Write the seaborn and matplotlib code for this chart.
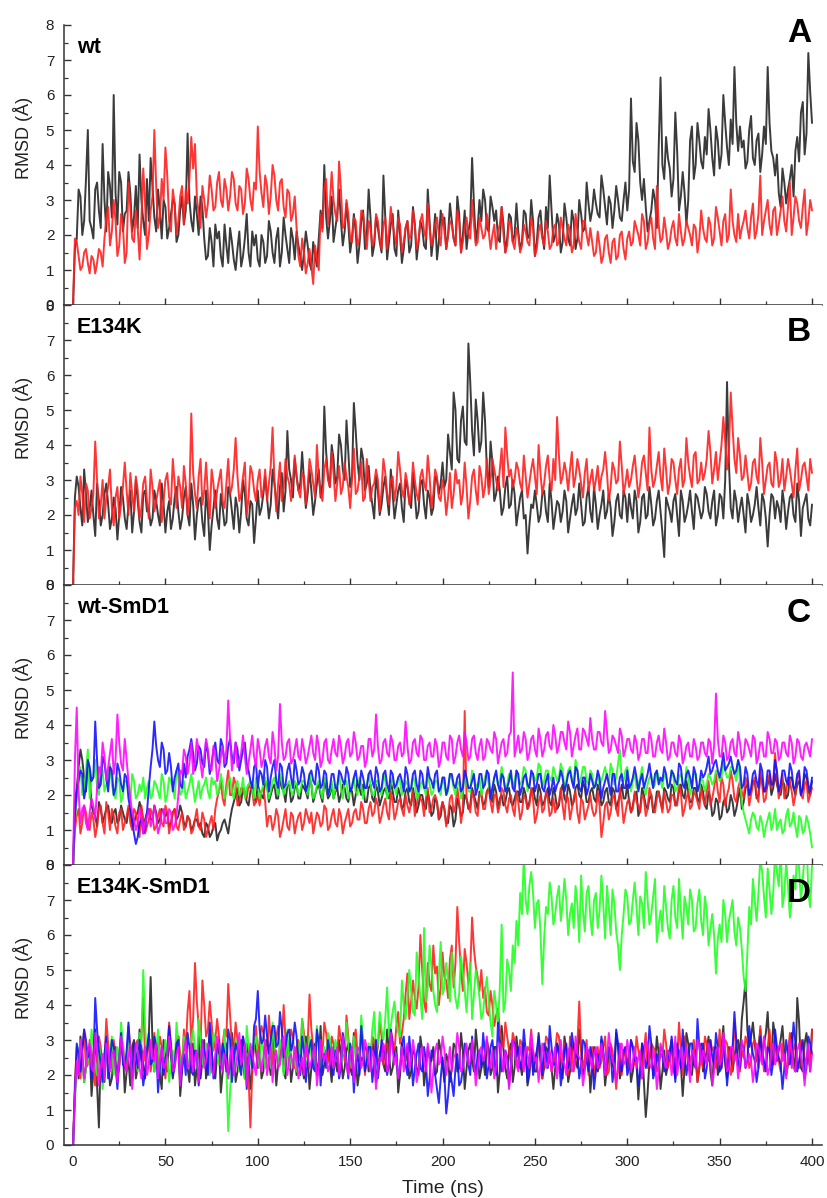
import numpy as np
import pandas as pd
import matplotlib
matplotlib.use("Agg")
import matplotlib.pyplot as plt
from matplotlib.ticker import MultipleLocator
import seaborn as sns

# RMSD readings in tenths of Angstrom.
# *_even: readings at t = 0, 2, 4, ... 400 ns ; *_odd: readings at t = 1, 3, ... 399 ns
even_times = list(range(0, 401, 2))
odd_times = list(range(1, 400, 2))

wt_run1_even = [0,
    19, 31, 24, 50, 22, 33, 27, 46, 21, 34,
    60, 23, 35, 26, 38, 21, 34, 43, 24, 36,
    42, 25, 33, 19, 28, 22, 30, 18, 27, 23,
    49, 24, 31, 20, 28, 13, 22, 11, 19, 14,
    23, 12, 18, 10, 21, 14, 26, 11, 17, 13,
    20, 12, 24, 15, 19, 11, 25, 16, 22, 13,
    17, 10, 21, 12, 18, 11, 27, 40, 19, 31,
    22, 33, 17, 29, 15, 26, 12, 24, 16, 33,
    14, 25, 18, 37, 13, 23, 16, 27, 12, 22,
    15, 28, 13, 24, 17, 33, 14, 26, 18, 23,
    16, 29, 19, 31, 15, 27, 21, 42, 18, 30,
    33, 22, 31, 24, 19, 28, 15, 26, 18, 29,
    16, 27, 19, 30, 14, 25, 20, 28, 37, 18,
    26, 15, 29, 19, 27, 16, 30, 21, 35, 24,
    33, 26, 37, 28, 31, 22, 34, 25, 30, 27,
    59, 38, 47, 30, 28, 24, 33, 22, 65, 36,
    42, 31, 55, 27, 38, 23, 47, 36, 52, 41,
    48, 56, 42, 51, 39, 60, 45, 53, 68, 44,
    45, 39, 50, 42, 47, 38, 51, 68, 44, 37,
    32, 39, 29, 36, 31, 48, 55, 43, 72, 52]
wt_run1_odd = [
    16, 33, 20, 36, 24, 19, 35, 22, 30, 38,
    25, 32, 38, 21, 27, 32, 25, 22, 30, 20,
    24, 34, 21, 27, 30, 19, 26, 29, 20, 31,
    27, 30, 21, 26, 31, 19, 14, 18, 23, 21,
    11, 17, 22, 13, 16, 11, 19, 15, 21, 20,
    11, 18, 14, 21, 12, 22, 15, 20, 12, 19,
    21, 14, 15, 17, 10, 14, 19, 22, 25, 24,
    18, 26, 24, 21, 23, 19, 21, 17, 27, 20,
    25, 17, 22, 15, 25, 18, 26, 14, 20, 16,
    24, 17, 23, 18, 22, 16, 24, 19, 13, 27,
    25, 20, 24, 17, 26, 20, 16, 24, 29, 22,
    24, 30, 21, 28, 27, 18, 23, 19, 25, 20,
    21, 18, 26, 20, 24, 18, 27, 16, 22, 27,
    20, 23, 18, 25, 17, 24, 19, 26, 22, 29,
    27, 29, 25, 33, 23, 29, 27, 30, 24, 35,
    33, 41, 52, 35, 36, 21, 27, 30, 45, 40,
    48, 39, 36, 44, 31, 32, 30, 51, 40, 47,
    39, 43, 50, 37, 47, 43, 52, 40, 46, 52,
    51, 47, 41, 54, 40, 49, 43, 46, 52, 42,
    43, 28, 35, 33, 40, 44, 41, 58, 49, 61]

wt_run2_even = [0,
    18, 10, 15, 12, 14, 9, 16, 11, 25, 17,
    30, 14, 26, 12, 35, 19, 27, 13, 39, 16,
    27, 50, 22, 36, 45, 24, 33, 20, 31, 23,
    29, 48, 46, 26, 34, 25, 37, 27, 35, 30,
    36, 27, 38, 29, 34, 26, 39, 30, 35, 51,
    32, 37, 26, 40, 30, 35, 28, 33, 24, 31,
    14, 19, 9, 16, 6, 13, 26, 33, 23, 38,
    26, 41, 22, 30, 19, 25, 17, 27, 21, 24,
    17, 26, 19, 23, 16, 28, 20, 25, 15, 22,
    19, 27, 16, 24, 21, 29, 17, 23, 20, 26,
    16, 24, 19, 27, 15, 22, 20, 30, 17, 25,
    19, 26, 16, 23, 21, 28, 15, 24, 18, 22,
    15, 23, 18, 25, 14, 21, 19, 24, 16, 22,
    17, 25, 19, 23, 15, 26, 18, 24, 20, 22,
    14, 21, 12, 19, 15, 18, 13, 20, 16, 19,
    17, 24, 20, 26, 16, 23, 19, 34, 18, 25,
    16, 22, 19, 26, 17, 24, 20, 23, 15, 27,
    19, 25, 17, 28, 21, 24, 18, 33, 20, 26,
    22, 27, 19, 29, 21, 37, 24, 30, 20, 28,
    23, 31, 21, 35, 25, 29, 22, 33, 24, 27]
wt_run2_odd = [
    19, 14, 11, 16, 9, 13, 12, 15, 19, 28,
    21, 24, 17, 23, 15, 28, 18, 22, 25, 29,
    20, 31, 34, 25, 30, 37, 21, 29, 24, 34,
    33, 36, 39, 31, 22, 30, 29, 33, 28, 38,
    28, 33, 31, 36, 27, 33, 29, 36, 27, 33,
    38, 28, 34, 31, 37, 27, 36, 25, 32, 26,
    22, 11, 15, 12, 11, 17, 10, 21, 36, 29,
    30, 24, 33, 23, 26, 18, 24, 19, 26, 16,
    22, 18, 24, 16, 25, 21, 23, 17, 23, 18,
    24, 20, 23, 18, 26, 19, 22, 19, 25, 17,
    21, 20, 23, 17, 24, 18, 25, 19, 23, 18,
    22, 20, 21, 20, 16, 23, 20, 17, 23, 16,
    20, 17, 21, 17, 22, 16, 23, 17, 21, 17,
    23, 18, 22, 17, 21, 17, 21, 16, 24, 17,
    18, 15, 17, 14, 20, 12, 19, 14, 21, 13,
    21, 18, 22, 17, 24, 18, 25, 16, 23, 19,
    21, 18, 24, 17, 21, 19, 22, 17, 22, 19,
    22, 18, 23, 19, 25, 17, 26, 20, 24, 18,
    19, 24, 22, 25, 19, 26, 20, 27, 23, 27,
    20, 27, 24, 28, 20, 31, 24, 28, 20, 30]

e134k_run1_even = [0,
    31, 22, 33, 18, 27, 14, 24, 20, 29, 16,
    25, 13, 28, 19, 23, 15, 30, 18, 26, 21,
    17, 27, 20, 29, 15, 24, 19, 28, 16, 25,
    20, 29, 13, 24, 18, 27, 10, 22, 19, 26,
    17, 28, 21, 25, 15, 30, 19, 24, 12, 27,
    22, 31, 19, 33, 24, 28, 21, 44, 30, 36,
    27, 38, 22, 33, 20, 29, 25, 51, 31, 40,
    29, 43, 33, 47, 28, 52, 35, 39, 27, 34,
    23, 31, 20, 28, 25, 33, 19, 27, 22, 30,
    24, 32, 19, 29, 23, 27, 20, 31, 26, 35,
    30, 38, 55, 36, 47, 41, 69, 44, 53, 38,
    55, 33, 41, 24, 31, 20, 28, 22, 30, 17,
    25, 19, 9, 23, 27, 18, 26, 21, 29, 16,
    24, 18, 27, 15, 23, 20, 29, 17, 25, 21,
    28, 16, 23, 19, 26, 14, 24, 20, 27, 18,
    22, 27, 15, 25, 19, 28, 17, 24, 21, 8,
    23, 18, 26, 14, 24, 20, 27, 16, 25, 19,
    28, 21, 24, 17, 26, 19, 58, 22, 27, 18,
    25, 15, 23, 20, 28, 17, 24, 11, 26, 19,
    22, 27, 16, 25, 20, 29, 14, 24, 19, 23]
e134k_run1_odd = [
    25, 28, 17, 26, 22, 20, 29, 17, 26, 23,
    19, 22, 20, 25, 16, 27, 21, 24, 15, 27,
    22, 19, 24, 17, 23, 21, 16, 25, 21, 19,
    28, 17, 23, 20, 25, 14, 21, 17, 27, 16,
    22, 18, 26, 16, 22, 21, 26, 17, 23, 19,
    20, 26, 25, 23, 29, 19, 32, 27, 33, 25,
    31, 29, 30, 26, 27, 24, 33, 29, 38, 28,
    36, 31, 40, 30, 38, 31, 44, 30, 36, 29,
    27, 19, 27, 23, 31, 20, 26, 23, 29, 18,
    28, 22, 26, 21, 30, 19, 25, 22, 30, 29,
    28, 43, 33, 50, 35, 51, 40, 58, 37, 47,
    41, 47, 28, 35, 26, 27, 22, 31, 23, 26,
    21, 27, 20, 17, 22, 23, 20, 27, 18, 24,
    20, 23, 21, 24, 19, 26, 22, 23, 18, 28,
    18, 23, 20, 27, 21, 22, 18, 26, 19, 25,
    26, 19, 24, 18, 26, 20, 23, 19, 27, 15,
    25, 21, 24, 20, 27, 18, 23, 21, 26, 22,
    21, 26, 19, 27, 20, 25, 30, 35, 19, 24,
    22, 20, 26, 18, 23, 22, 26, 19, 20, 25,
    24, 18, 23, 21, 26, 18, 24, 22, 26, 17]

e134k_run2_even = [0,
    24, 31, 18, 27, 22, 41, 19, 30, 25, 33,
    17, 28, 23, 35, 20, 26, 31, 19, 29, 24,
    33, 21, 27, 18, 30, 25, 36, 22, 28, 34,
    20, 49, 26, 31, 23, 35, 19, 29, 27, 33,
    22, 36, 28, 42, 24, 31, 20, 34, 27, 30,
    25, 33, 29, 45, 21, 35, 28, 31, 24, 37,
    27, 32, 23, 36, 29, 40, 26, 33, 30, 38,
    24, 34, 28, 31, 22, 39, 27, 35, 25, 30,
    28, 33, 21, 36, 26, 30, 24, 38, 27, 32,
    23, 35, 26, 31, 29, 37, 22, 33, 25, 30,
    20, 32, 26, 29, 23, 35, 19, 31, 27, 34,
    25, 36, 30, 33, 27, 39, 45, 31, 28, 35,
    29, 37, 25, 33, 31, 40, 26, 34, 30, 36,
    48, 29, 35, 27, 38, 31, 33, 25, 36, 30,
    27, 34, 31, 38, 24, 35, 29, 41, 26, 33,
    30, 37, 25, 35, 32, 45, 28, 34, 31, 39,
    26, 36, 30, 33, 28, 42, 31, 37, 29, 35,
    32, 44, 29, 38, 35, 48, 33, 55, 36, 42,
    30, 37, 27, 35, 31, 42, 26, 34, 29, 38,
    28, 36, 31, 33, 25, 39, 30, 35, 27, 32]
e134k_run2_odd = [
    22, 20, 26, 29, 19, 26, 30, 23, 19, 28,
    22, 25, 19, 28, 27, 32, 21, 27, 22, 31,
    19, 28, 24, 30, 24, 32, 23, 29, 31, 22,
    29, 26, 32, 22, 36, 27, 26, 33, 22, 30,
    24, 29, 26, 33, 31, 26, 35, 25, 32, 24,
    33, 27, 24, 34, 30, 29, 24, 36, 29, 30,
    31, 25, 31, 28, 33, 25, 31, 24, 36, 28,
    32, 29, 26, 35, 28, 30, 26, 31, 24, 36,
    24, 29, 30, 27, 32, 23, 31, 28, 33, 25,
    29, 26, 30, 24, 33, 27, 31, 26, 31, 24,
    27, 25, 22, 33, 30, 26, 28, 24, 33, 23,
    31, 28, 26, 36, 30, 33, 28, 37, 33, 30,
    33, 27, 31, 29, 36, 26, 32, 29, 37, 27,
    30, 37, 31, 32, 33, 28, 36, 29, 32, 27,
    33, 30, 27, 33, 32, 28, 33, 30, 34, 29,
    28, 34, 31, 29, 37, 27, 33, 30, 38, 27,
    33, 29, 35, 26, 36, 30, 35, 28, 38, 30,
    30, 36, 38, 33, 30, 40, 41, 38, 45, 32,
    37, 31, 32, 29, 36, 29, 35, 30, 35, 28,
    35, 30, 27, 36, 29, 33, 27, 34, 31, 36]

wtsmd1_black_even = [0,
    22, 33, 25, 30, 17, 14, 18, 12, 16, 13,
    15, 12, 17, 13, 16, 11, 14, 18, 12, 15,
    13, 17, 12, 16, 14, 11, 15, 13, 17, 12,
    14, 10, 13, 11, 9, 12, 8, 11, 7, 10,
    13, 9, 16, 20, 17, 22, 18, 21, 19, 23,
    20, 24, 18, 22, 19, 25, 21, 23, 18, 22,
    19, 23, 21, 25, 18, 22, 20, 24, 19, 23,
    21, 18, 23, 19, 22, 17, 24, 20, 18, 22,
    19, 23, 17, 21, 20, 24, 18, 22, 16, 21,
    18, 22, 15, 20, 17, 21, 14, 19, 13, 18,
    12, 17, 11, 19, 14, 20, 16, 22, 18, 21,
    17, 21, 19, 23, 16, 20, 18, 22, 17, 21,
    18, 22, 16, 21, 19, 23, 17, 20, 18, 22,
    16, 21, 19, 23, 17, 22, 20, 24, 18, 21,
    19, 23, 17, 21, 18, 22, 16, 20, 19, 23,
    15, 20, 14, 22, 17, 19, 15, 21, 18, 22,
    19, 23, 17, 21, 20, 24, 18, 22, 19, 23,
    17, 21, 14, 19, 13, 18, 15, 20, 14, 19,
    16, 22, 20, 24, 19, 25, 21, 23, 20, 26,
    21, 24, 19, 25, 22, 23, 20, 26, 21, 24]
wtsmd1_black_odd = [
    18, 28, 30, 21, 26, 15, 11, 16, 14, 17,
    12, 16, 13, 15, 12, 16, 12, 15, 16, 13,
    16, 13, 15, 13, 15, 15, 12, 16, 14, 15,
    11, 13, 11, 13, 12, 8, 11, 9, 12, 9,
    12, 11, 13, 18, 22, 18, 21, 17, 23, 18,
    21, 19, 23, 20, 23, 19, 22, 18, 23, 19,
    23, 19, 22, 19, 23, 20, 23, 18, 22, 20,
    19, 22, 20, 22, 18, 21, 20, 22, 23, 18,
    23, 18, 21, 19, 22, 19, 21, 18, 20, 17,
    22, 17, 19, 17, 20, 16, 18, 15, 18, 14,
    16, 12, 16, 13, 17, 15, 19, 17, 20, 16,
    20, 18, 22, 18, 21, 19, 17, 21, 18, 19,
    21, 18, 20, 18, 22, 17, 21, 18, 22, 17,
    20, 17, 23, 18, 21, 18, 23, 19, 22, 18,
    22, 18, 21, 18, 22, 17, 21, 18, 23, 19,
    18, 17, 21, 16, 20, 16, 20, 17, 21, 16,
    21, 18, 22, 18, 23, 19, 21, 18, 22, 18,
    21, 16, 19, 15, 18, 14, 19, 16, 18, 16,
    22, 18, 23, 21, 24, 20, 24, 21, 25, 22,
    23, 20, 23, 20, 25, 20, 24, 22, 25, 20]

wtsmd1_red_even = [0,
    14, 9, 17, 11, 15, 8, 16, 12, 18, 10,
    14, 9, 16, 12, 17, 10, 15, 8, 13, 11,
    16, 10, 14, 12, 17, 9, 15, 11, 13, 10,
    14, 9, 13, 11, 15, 8, 12, 10, 19, 24,
    17, 27, 20, 23, 18, 21, 19, 22, 17, 20,
    21, 18, 14, 10, 16, 8, 13, 11, 15, 9,
    14, 10, 16, 12, 9, 15, 11, 17, 10, 14,
    12, 16, 9, 14, 11, 15, 13, 18, 12, 16,
    14, 19, 12, 17, 15, 21, 13, 18, 16, 20,
    15, 21, 17, 19, 14, 22, 16, 20, 13, 18,
    11, 19, 15, 22, 12, 44, 17, 21, 15, 20,
    16, 21, 18, 20, 15, 22, 17, 19, 16, 21,
    13, 20, 16, 22, 12, 18, 15, 21, 14, 19,
    17, 22, 13, 19, 16, 21, 12, 18, 15, 20,
    14, 21, 8, 17, 13, 19, 16, 22, 12, 18,
    15, 21, 17, 20, 14, 22, 16, 19, 18, 21,
    15, 20, 17, 23, 14, 19, 16, 21, 18, 22,
    17, 24, 19, 26, 18, 23, 20, 27, 19, 22,
    21, 25, 17, 23, 20, 27, 18, 24, 22, 32,
    19, 26, 21, 24, 17, 25, 20, 23, 18, 22]
wtsmd1_red_odd = [
    10, 16, 12, 15, 10, 13, 11, 17, 9, 15,
    16, 11, 15, 10, 14, 12, 16, 12, 17, 9,
    13, 14, 11, 16, 11, 15, 12, 16, 10, 15,
    11, 13, 10, 16, 10, 13, 10, 14, 16, 21,
    19, 23, 20, 25, 17, 22, 20, 23, 21, 18,
    17, 22, 11, 14, 12, 14, 10, 16, 10, 14,
    12, 15, 12, 14, 15, 12, 14, 12, 16, 11,
    16, 11, 14, 12, 16, 12, 16, 13, 16, 12,
    18, 15, 17, 14, 19, 13, 18, 15, 19, 14,
    17, 18, 14, 21, 18, 19, 15, 19, 18, 16,
    16, 14, 20, 17, 18, 16, 19, 15, 19, 14,
    21, 16, 22, 15, 20, 17, 21, 15, 20, 14,
    18, 15, 19, 17, 19, 14, 20, 16, 19, 15,
    15, 18, 17, 20, 13, 19, 15, 19, 13, 17,
    16, 15, 17, 12, 18, 15, 20, 14, 18, 15,
    19, 16, 18, 15, 19, 16, 20, 15, 21, 15,
    18, 16, 20, 17, 21, 16, 21, 17, 20, 16,
    19, 21, 17, 22, 21, 25, 17, 22, 24, 18,
    24, 19, 23, 20, 25, 18, 23, 19, 26, 24,
    25, 22, 19, 25, 21, 20, 26, 19, 24, 20]

wtsmd1_green_even = [0,
    19, 28, 22, 33, 24, 30, 20, 27, 23, 29,
    20, 25, 18, 24, 21, 26, 19, 23, 25, 22,
    19, 24, 21, 26, 18, 25, 22, 27, 20, 24,
    21, 26, 18, 24, 22, 25, 19, 23, 20, 26,
    19, 24, 21, 23, 20, 25, 22, 24, 19, 23,
    21, 25, 19, 24, 22, 26, 20, 23, 21, 24,
    20, 24, 22, 26, 19, 23, 21, 25, 20, 24,
    22, 26, 19, 24, 21, 25, 20, 23, 22, 26,
    20, 24, 21, 26, 19, 23, 22, 25, 20, 24,
    21, 25, 19, 23, 22, 26, 20, 24, 21, 25,
    20, 26, 22, 24, 19, 25, 21, 27, 23, 25,
    22, 27, 20, 25, 23, 28, 21, 26, 22, 27,
    23, 28, 21, 26, 24, 29, 22, 27, 25, 28,
    24, 29, 22, 27, 25, 30, 23, 28, 24, 27,
    22, 26, 24, 28, 23, 27, 25, 33, 24, 28,
    21, 26, 23, 28, 20, 25, 22, 27, 24, 26,
    22, 27, 21, 25, 23, 28, 20, 26, 22, 25,
    21, 26, 23, 27, 24, 29, 25, 28, 26, 30,
    18, 13, 9, 15, 11, 14, 8, 13, 10, 16,
    12, 9, 14, 11, 15, 8, 13, 10, 12, 5]
wtsmd1_green_odd = [
    12, 25, 20, 27, 19, 25, 22, 28, 21, 26,
    23, 19, 24, 20, 24, 18, 24, 20, 21, 19,
    24, 20, 23, 19, 24, 20, 24, 19, 25, 21,
    19, 23, 22, 21, 19, 23, 21, 25, 24, 21,
    23, 21, 25, 19, 24, 21, 19, 23, 22, 25,
    19, 23, 22, 21, 25, 20, 24, 22, 24, 20,
    23, 21, 24, 20, 23, 20, 24, 19, 24, 21,
    19, 23, 22, 24, 19, 23, 21, 25, 19, 23,
    23, 20, 24, 20, 24, 21, 25, 20, 24, 21,
    23, 21, 24, 20, 24, 20, 23, 21, 24, 20,
    23, 21, 25, 20, 23, 22, 24, 21, 25, 22,
    20, 25, 23, 22, 26, 24, 25, 23, 25, 24,
    25, 24, 27, 23, 26, 25, 28, 24, 27, 24,
    26, 25, 27, 24, 28, 23, 27, 25, 28, 23,
    26, 24, 23, 26, 25, 29, 23, 29, 24, 27,
    24, 24, 22, 25, 23, 23, 26, 23, 25, 22,
    25, 23, 25, 22, 26, 22, 25, 22, 26, 21,
    24, 23, 25, 24, 26, 25, 27, 25, 28, 24,
    24, 15, 11, 13, 14, 10, 12, 11, 15, 12,
    10, 13, 10, 16, 12, 11, 14, 9, 14, 9]

wtsmd1_blue_even = [0,
    21, 27, 19, 30, 24, 41, 22, 31, 25, 28,
    20, 29, 23, 26, 19, 13, 6, 12, 9, 15,
    28, 41, 30, 35, 26, 32, 21, 27, 23, 29,
    31, 36, 27, 34, 29, 35, 26, 33, 30, 36,
    28, 34, 31, 35, 27, 33, 29, 24, 28, 22,
    26, 30, 21, 28, 24, 29, 22, 27, 25, 30,
    23, 28, 21, 26, 24, 29, 22, 27, 20, 26,
    22, 27, 24, 28, 21, 25, 23, 27, 22, 26,
    24, 28, 21, 26, 23, 27, 22, 25, 24, 28,
    21, 26, 23, 27, 22, 28, 24, 26, 21, 25,
    20, 26, 23, 25, 21, 27, 22, 24, 20, 26,
    22, 27, 19, 25, 23, 26, 21, 24, 22, 27,
    20, 25, 23, 27, 21, 26, 22, 24, 20, 25,
    23, 27, 21, 26, 24, 28, 22, 25, 20, 26,
    22, 27, 19, 24, 23, 26, 21, 25, 22, 27,
    23, 28, 21, 26, 24, 29, 22, 27, 25, 28,
    22, 27, 24, 29, 23, 26, 25, 28, 21, 27,
    26, 31, 27, 30, 25, 32, 28, 31, 26, 30,
    22, 28, 20, 26, 24, 29, 21, 27, 23, 30,
    21, 27, 24, 29, 22, 26, 20, 28, 23, 25]
wtsmd1_blue_odd = [
    14, 24, 26, 22, 28, 25, 30, 23, 29, 21,
    27, 22, 27, 21, 25, 16, 9, 8, 13, 10,
    22, 33, 34, 28, 33, 27, 28, 25, 29, 22,
    25, 33, 32, 29, 33, 28, 32, 29, 35, 29,
    34, 29, 36, 29, 33, 30, 35, 27, 22, 29,
    27, 23, 28, 25, 30, 22, 28, 23, 29, 22,
    27, 24, 26, 23, 27, 23, 27, 23, 26, 22,
    26, 22, 26, 23, 26, 22, 27, 22, 25, 22,
    27, 22, 26, 22, 27, 21, 26, 23, 26, 21,
    26, 22, 27, 21, 26, 22, 25, 22, 27, 22,
    25, 22, 26, 22, 26, 22, 25, 22, 26, 22,
    26, 23, 26, 22, 27, 21, 25, 22, 27, 21,
    26, 22, 26, 22, 26, 23, 26, 21, 26, 22,
    21, 24, 25, 23, 27, 22, 27, 21, 25, 22,
    24, 23, 25, 22, 26, 20, 26, 21, 26, 22,
    22, 25, 25, 24, 22, 26, 25, 26, 23, 24,
    26, 23, 26, 23, 28, 22, 27, 22, 26, 23,
    25, 28, 26, 29, 27, 28, 27, 29, 28, 27,
    28, 23, 26, 22, 27, 22, 27, 22, 27, 23,
    27, 23, 27, 23, 27, 22, 27, 22, 27, 21]

wtsmd1_magenta_even = [0,
    45, 12, 17, 10, 19, 13, 28, 35, 24, 32,
    26, 43, 29, 36, 24, 15, 10, 16, 9, 14,
    11, 17, 9, 15, 12, 16, 10, 14, 27, 33,
    26, 35, 29, 33, 25, 36, 28, 34, 24, 31,
    29, 47, 27, 35, 30, 37, 26, 33, 31, 36,
    28, 34, 31, 38, 27, 46, 30, 35, 29, 33,
    31, 36, 29, 34, 32, 37, 28, 35, 30, 33,
    32, 37, 29, 35, 31, 38, 30, 34, 28, 36,
    31, 43, 29, 35, 32, 37, 30, 34, 31, 41,
    29, 35, 32, 37, 30, 34, 31, 36, 28, 35,
    31, 37, 29, 35, 33, 38, 30, 36, 32, 34,
    30, 36, 33, 38, 29, 35, 31, 37, 55, 34,
    32, 38, 30, 36, 33, 39, 31, 37, 34, 40,
    32, 38, 35, 41, 31, 37, 33, 39, 36, 42,
    33, 38, 35, 44, 32, 37, 34, 39, 31, 36,
    33, 37, 30, 36, 32, 38, 31, 35, 33, 39,
    30, 35, 32, 37, 29, 34, 31, 36, 30, 35,
    32, 36, 29, 49, 31, 37, 30, 35, 32, 38,
    30, 36, 33, 37, 29, 35, 31, 38, 32, 36,
    30, 35, 32, 37, 29, 36, 31, 34, 33, 36]
wtsmd1_magenta_odd = [
    30, 21, 16, 12, 15, 17, 22, 26, 31, 28,
    36, 30, 35, 27, 30, 19, 13, 12, 14, 12,
    16, 13, 14, 11, 16, 12, 15, 11, 20, 26,
    31, 29, 26, 36, 29, 31, 33, 27, 31, 27,
    34, 33, 36, 31, 28, 32, 31, 29, 37, 28,
    33, 30, 36, 29, 34, 31, 35, 31, 36, 30,
    36, 30, 33, 31, 37, 30, 34, 30, 36, 29,
    36, 31, 34, 31, 36, 32, 35, 31, 34, 30,
    36, 33, 34, 30, 36, 31, 35, 30, 35, 32,
    34, 30, 36, 31, 36, 30, 35, 31, 34, 30,
    35, 30, 36, 31, 37, 31, 35, 31, 37, 30,
    36, 31, 35, 32, 36, 32, 36, 32, 38, 31,
    37, 33, 36, 32, 37, 31, 36, 33, 38, 33,
    37, 34, 38, 33, 38, 34, 39, 33, 38, 34,
    36, 33, 38, 34, 38, 33, 36, 32, 37, 33,
    36, 32, 35, 32, 36, 32, 36, 31, 37, 32,
    35, 31, 35, 31, 35, 31, 35, 31, 34, 31,
    35, 31, 35, 34, 36, 31, 35, 31, 36, 31,
    35, 31, 35, 31, 36, 31, 35, 31, 36, 32,
    35, 31, 35, 31, 35, 31, 35, 30, 35, 31]

e134ksmd1_black_even = [0,
    24, 31, 18, 27, 14, 33, 5, 22, 29, 17,
    26, 20, 31, 15, 24, 28, 19, 33, 23, 27,
    48, 21, 29, 16, 25, 32, 19, 27, 14, 30,
    22, 28, 17, 31, 24, 19, 33, 21, 26, 15,
    27, 20, 32, 18, 25, 23, 29, 16, 30, 22,
    19, 28, 24, 33, 17, 26, 21, 30, 18, 25,
    29, 22, 31, 16, 27, 20, 34, 23, 26, 18,
    24, 30, 19, 27, 22, 32, 17, 25, 28, 21,
    30, 18, 26, 23, 33, 20, 27, 15, 29, 24,
    19, 27, 22, 31, 17, 28, 24, 20, 30, 23,
    26, 18, 29, 21, 32, 16, 27, 24, 33, 19,
    25, 30, 20, 28, 15, 34, 22, 27, 18, 31,
    23, 29, 17, 26, 21, 32, 19, 28, 24, 16,
    29, 22, 31, 18, 27, 24, 33, 20, 26, 15,
    28, 21, 30, 17, 25, 23, 32, 19, 27, 22,
    18, 26, 13, 29, 8, 24, 20, 31, 16, 27,
    23, 30, 19, 27, 14, 32, 21, 26, 18, 29,
    24, 31, 17, 28, 22, 34, 19, 27, 25, 30,
    36, 47, 28, 35, 24, 33, 29, 38, 23, 31,
    27, 34, 20, 30, 25, 42, 22, 29, 26, 33]
e134ksmd1_black_odd = [
    15, 19, 26, 22, 28, 21, 17, 27, 18, 25,
    19, 28, 22, 27, 21, 17, 30, 22, 28, 19,
    31, 29, 27, 20, 30, 21, 25, 23, 31, 21,
    27, 18, 29, 22, 19, 30, 24, 27, 19, 28,
    21, 29, 22, 27, 21, 30, 19, 26, 21, 27,
    28, 21, 30, 20, 27, 23, 29, 19, 27, 22,
    20, 28, 19, 26, 22, 29, 24, 20, 27, 23,
    28, 21, 26, 22, 29, 20, 26, 21, 24, 27,
    23, 26, 22, 28, 21, 26, 22, 28, 20, 26,
    28, 21, 26, 20, 27, 22, 25, 28, 21, 27,
    18, 24, 22, 28, 22, 27, 22, 29, 21, 27,
    22, 20, 27, 22, 28, 21, 27, 19, 29, 22,
    26, 20, 27, 20, 27, 21, 26, 22, 27, 22,
    22, 27, 19, 27, 21, 29, 22, 28, 22, 27,
    22, 26, 23, 26, 22, 28, 21, 28, 22, 26,
    27, 21, 23, 21, 18, 15, 28, 23, 26, 21,
    20, 27, 22, 24, 23, 22, 29, 20, 27, 22,
    21, 27, 21, 27, 20, 28, 23, 28, 21, 29,
    25, 41, 33, 31, 29, 28, 24, 32, 27, 35,
    24, 30, 26, 23, 32, 21, 35, 21, 32, 21]

e134ksmd1_red_even = [0,
    28, 19, 33, 23, 27, 17, 31, 21, 36, 25,
    30, 18, 27, 22, 34, 20, 29, 24, 42, 26,
    21, 32, 25, 28, 19, 35, 23, 30, 26, 33,
    38, 29, 52, 34, 47, 31, 41, 27, 36, 24,
    33, 46, 28, 35, 22, 31, 26, 5, 30, 25,
    34, 28, 37, 23, 31, 26, 40, 29, 33, 22,
    30, 36, 25, 43, 28, 32, 21, 35, 27, 31,
    24, 34, 29, 37, 22, 30, 26, 33, 20, 28,
    31, 25, 35, 23, 29, 33, 27, 38, 32, 43,
    36, 47, 39, 60, 41, 52, 44, 49, 40, 55,
    47, 53, 45, 68, 50, 56, 46, 65, 51, 44,
    42, 38, 44, 34, 39, 30, 35, 27, 32, 25,
    30, 22, 28, 33, 24, 29, 19, 31, 26, 23,
    32, 25, 29, 20, 27, 24, 41, 22, 30, 26,
    19, 28, 24, 31, 21, 27, 16, 29, 25, 22,
    30, 23, 27, 19, 32, 25, 28, 21, 26, 33,
    22, 29, 25, 35, 20, 27, 24, 30, 18, 28,
    31, 24, 27, 22, 33, 26, 29, 20, 35, 23,
    27, 31, 22, 29, 25, 34, 21, 28, 26, 30,
    24, 29, 20, 32, 27, 23, 30, 25, 28, 33]
e134ksmd1_red_odd = [
    18, 24, 27, 22, 30, 22, 25, 28, 24, 29,
    22, 25, 23, 29, 21, 28, 25, 30, 31, 24,
    30, 25, 22, 31, 25, 27, 29, 24, 31, 22,
    27, 44, 36, 41, 28, 40, 33, 35, 30, 31,
    29, 31, 37, 27, 30, 27, 22, 20, 21, 34,
    30, 32, 24, 30, 28, 34, 29, 30, 26, 31,
    28, 24, 32, 29, 33, 25, 30, 26, 32, 23,
    29, 26, 30, 24, 31, 25, 33, 24, 29, 26,
    24, 30, 28, 31, 28, 24, 30, 34, 29, 36,
    49, 41, 42, 45, 50, 38, 46, 57, 51, 45,
    48, 42, 57, 52, 58, 44, 52, 50, 56, 48,
    50, 45, 37, 40, 37, 33, 28, 31, 24, 30,
    22, 29, 24, 27, 21, 26, 25, 24, 30, 21,
    27, 31, 22, 27, 31, 21, 29, 27, 25, 20,
    28, 24, 22, 28, 20, 29, 22, 23, 20, 28,
    25, 28, 31, 24, 27, 22, 29, 27, 23, 25,
    29, 25, 21, 24, 27, 31, 23, 26, 24, 22,
    22, 29, 30, 28, 25, 22, 30, 25, 22, 29,
    21, 25, 29, 24, 30, 22, 27, 23, 33, 23,
    27, 21, 25, 26, 22, 29, 22, 29, 23, 22]

e134ksmd1_green_even = [0,
    22, 30, 18, 27, 33, 24, 29, 16, 31, 26,
    20, 28, 35, 23, 30, 19, 27, 32, 50, 25,
    29, 21, 33, 26, 30, 18, 27, 35, 24, 31,
    22, 30, 27, 36, 23, 29, 20, 32, 26, 28,
    33, 4, 24, 30, 21, 28, 34, 23, 29, 26,
    31, 22, 28, 35, 25, 30, 20, 33, 27, 24,
    29, 36, 23, 31, 26, 34, 21, 28, 32, 25,
    30, 22, 27, 35, 24, 31, 28, 37, 26, 29,
    33, 27, 38, 30, 45, 34, 41, 32, 47, 36,
    50, 38, 55, 42, 62, 45, 51, 40, 48, 43,
    52, 41, 49, 39, 54, 44, 47, 36, 50, 42,
    38, 48, 35, 44, 34, 63, 41, 50, 57, 64,
    72, 83, 66, 78, 62, 70, 46, 68, 75, 63,
    71, 64, 76, 60, 69, 74, 58, 67, 72, 65,
    70, 62, 77, 59, 68, 73, 61, 50, 66, 71,
    64, 75, 60, 69, 78, 63, 71, 58, 67, 74,
    62, 70, 65, 76, 59, 68, 73, 61, 69, 64,
    71, 57, 66, 49, 63, 70, 58, 67, 61, 65,
    56, 44, 68, 76, 64, 82, 71, 79, 66, 84,
    74, 68, 81, 65, 77, 85, 70, 83, 72, 80]
e134ksmd1_green_odd = [
    12, 26, 25, 22, 23, 28, 20, 25, 22, 21,
    31, 23, 24, 29, 25, 27, 24, 21, 29, 34,
    22, 25, 27, 21, 24, 25, 23, 22, 29, 23,
    27, 25, 33, 22, 30, 24, 28, 24, 30, 23,
    24, 22, 15, 20, 27, 24, 19, 28, 24, 31,
    22, 27, 24, 22, 29, 23, 27, 24, 22, 30,
    21, 26, 30, 24, 25, 22, 27, 24, 23, 30,
    22, 27, 23, 26, 29, 22, 25, 24, 30, 23,
    25, 38, 29, 33, 36, 31, 38, 35, 31, 40,
    42, 44, 37, 49, 36, 41, 57, 44, 38, 58,
    45, 47, 55, 42, 43, 49, 38, 52, 43, 47,
    36, 44, 41, 31, 40, 45, 38, 53, 44, 52,
    57, 66, 70, 74, 72, 69, 61, 59, 66, 71,
    66, 74, 69, 70, 66, 62, 69, 77, 61, 74,
    60, 72, 67, 69, 74, 60, 69, 57, 60, 73,
    63, 70, 68, 71, 62, 70, 66, 76, 63, 61,
    68, 59, 74, 62, 67, 71, 63, 70, 62, 73,
    60, 67, 62, 60, 59, 58, 66, 64, 70, 57,
    62, 48, 55, 63, 70, 72, 78, 65, 73, 72,
    78, 86, 72, 74, 70, 73, 79, 76, 88, 68]

e134ksmd1_blue_even = [0,
    29, 21, 33, 25, 19, 42, 27, 18, 31, 24,
    28, 16, 32, 22, 35, 19, 26, 30, 17, 27,
    23, 31, 15, 28, 25, 34, 20, 29, 18, 26,
    32, 21, 27, 17, 30, 24, 35, 19, 28, 22,
    26, 33, 18, 29, 23, 31, 16, 27, 34, 44,
    29, 37, 26, 34, 28, 38, 25, 32, 27, 35,
    24, 31, 18, 28, 22, 33, 17, 26, 30, 21,
    27, 19, 32, 24, 29, 15, 26, 34, 21, 28,
    18, 30, 24, 27, 20, 33, 25, 19, 29, 23,
    31, 17, 26, 22, 28, 14, 27, 20, 12, 25,
    9, 21, 14, 26, 18, 29, 23, 31, 20, 27,
    32, 19, 28, 24, 35, 21, 27, 17, 30, 25,
    22, 33, 18, 28, 24, 31, 20, 26, 34, 23,
    29, 17, 27, 22, 32, 25, 19, 30, 24, 28,
    16, 26, 31, 21, 28, 18, 33, 23, 27, 20,
    30, 24, 17, 29, 22, 34, 19, 26, 28, 21,
    27, 31, 18, 25, 33, 20, 29, 23, 36, 24,
    19, 28, 25, 32, 21, 30, 17, 27, 38, 23,
    29, 22, 34, 26, 18, 31, 24, 28, 20, 33,
    25, 16, 30, 23, 35, 21, 27, 19, 31, 26]
e134ksmd1_blue_odd = [
    15, 26, 27, 30, 28, 23, 33, 23, 26, 19,
    30, 23, 25, 23, 27, 26, 29, 22, 24, 21,
    32, 24, 28, 22, 20, 26, 28, 23, 30, 22,
    20, 28, 20, 26, 22, 27, 20, 28, 24, 30,
    29, 21, 30, 24, 27, 20, 28, 25, 22, 36,
    33, 30, 31, 30, 34, 29, 33, 28, 33, 29,
    31, 20, 27, 24, 30, 21, 29, 24, 22, 27,
    20, 25, 22, 28, 19, 26, 23, 20, 27, 24,
    28, 23, 19, 30, 26, 23, 28, 26, 22, 31,
    20, 25, 22, 29, 21, 24, 19, 27, 16, 19,
    20, 14, 18, 22, 17, 22, 27, 20, 24, 26,
    22, 26, 23, 30, 20, 28, 22, 25, 23, 29,
    28, 24, 27, 25, 20, 27, 24, 29, 22, 28,
    23, 26, 21, 29, 24, 28, 26, 23, 29, 21,
    25, 21, 23, 27, 24, 27, 22, 29, 21, 28,
    22, 28, 25, 21, 27, 24, 29, 21, 23, 27,
    22, 24, 26, 29, 22, 26, 24, 29, 22, 28,
    29, 22, 30, 23, 28, 22, 26, 23, 28, 30,
    22, 28, 24, 29, 24, 22, 27, 21, 27, 24,
    28, 23, 22, 26, 27, 29, 24, 30, 22, 29]

e134ksmd1_magenta_even = [0,
    24, 30, 19, 27, 22, 32, 17, 26, 29, 21,
    27, 18, 31, 23, 25, 16, 29, 22, 26, 20,
    30, 24, 19, 28, 23, 31, 21, 26, 17, 27,
    22, 29, 25, 18, 30, 24, 27, 20, 31, 23,
    26, 19, 28, 22, 32, 25, 17, 29, 23, 27,
    21, 30, 24, 18, 27, 23, 31, 20, 26, 28,
    19, 25, 29, 22, 27, 17, 30, 24, 21, 28,
    25, 20, 31, 23, 26, 18, 28, 22, 30, 24,
    27, 16, 25, 29, 21, 32, 23, 19, 28, 26,
    22, 30, 18, 26, 24, 29, 15, 27, 23, 31,
    20, 28, 25, 32, 21, 26, 23, 30, 17, 27,
    24, 31, 22, 19, 29, 25, 27, 16, 30, 23,
    28, 21, 26, 32, 24, 18, 29, 22, 27, 25,
    19, 30, 23, 27, 21, 31, 25, 17, 28, 24,
    26, 22, 29, 20, 32, 24, 18, 27, 23, 30,
    21, 28, 25, 19, 30, 23, 27, 16, 29, 24,
    27, 20, 31, 24, 22, 28, 18, 26, 30, 23,
    25, 29, 17, 27, 23, 32, 21, 28, 24, 19,
    30, 22, 26, 18, 29, 25, 31, 20, 27, 23,
    28, 24, 19, 30, 22, 27, 25, 17, 29, 26]
e134ksmd1_magenta_odd = [
    14, 20, 26, 23, 29, 21, 26, 22, 19, 27,
    26, 22, 24, 27, 21, 29, 23, 27, 19, 28,
    23, 25, 29, 24, 22, 26, 27, 22, 28, 24,
    30, 23, 21, 27, 24, 22, 29, 21, 26, 29,
    21, 24, 25, 20, 26, 23, 29, 24, 26, 20,
    24, 25, 20, 28, 25, 22, 28, 23, 25, 22,
    24, 22, 20, 26, 24, 28, 22, 26, 27, 23,
    22, 28, 24, 27, 20, 28, 24, 27, 24, 28,
    21, 25, 22, 24, 27, 23, 27, 26, 22, 21,
    29, 24, 26, 21, 28, 21, 24, 21, 29, 24,
    27, 23, 21, 26, 28, 22, 29, 24, 24, 22,
    28, 26, 23, 27, 22, 29, 21, 24, 22, 28,
    21, 25, 28, 22, 27, 25, 23, 26, 23, 21,
    28, 24, 24, 20, 28, 22, 26, 24, 21, 27,
    22, 28, 24, 26, 25, 27, 23, 22, 29, 24,
    26, 24, 22, 27, 24, 29, 22, 24, 21, 27,
    22, 26, 24, 20, 28, 25, 24, 27, 22, 29,
    27, 23, 25, 21, 28, 24, 27, 22, 28, 26,
    24, 27, 24, 24, 22, 28, 23, 27, 22, 29,
    25, 29, 26, 24, 27, 21, 29, 23, 24, 21]

panel_titles = ["wt", "E134K", "wt-SmD1", "E134K-SmD1"]
panel_letters = ["A", "B", "C", "D"]
x_ticks = [0, 50, 100, 150, 200, 250, 300, 350, 400]
y_ticks = [0, 1, 2, 3, 4, 5, 6, 7, 8]

# ---------------- styling ----------------
sns.set_theme(style="ticks")
plt.rcParams["font.family"] = ["Liberation Sans", "DejaVu Sans"]

BLACK = "#262626"
RED = "#ff2020"
GREEN = "#22ff22"
BLUE = "#1414ff"
MAGENTA = "#ff08ff"

panels = [
    [(wt_run1_even, wt_run1_odd, BLACK), (wt_run2_even, wt_run2_odd, RED)],
    [(e134k_run1_even, e134k_run1_odd, BLACK), (e134k_run2_even, e134k_run2_odd, RED)],
    [(wtsmd1_black_even, wtsmd1_black_odd, BLACK),
     (wtsmd1_red_even, wtsmd1_red_odd, RED),
     (wtsmd1_green_even, wtsmd1_green_odd, GREEN),
     (wtsmd1_blue_even, wtsmd1_blue_odd, BLUE),
     (wtsmd1_magenta_even, wtsmd1_magenta_odd, MAGENTA)],
    [(e134ksmd1_black_even, e134ksmd1_black_odd, BLACK),
     (e134ksmd1_red_even, e134ksmd1_red_odd, RED),
     (e134ksmd1_green_even, e134ksmd1_green_odd, GREEN),
     (e134ksmd1_blue_even, e134ksmd1_blue_odd, BLUE),
     (e134ksmd1_magenta_even, e134ksmd1_magenta_odd, MAGENTA)],
]

W, H = 827, 1198
fig = plt.figure(figsize=(W / 100, H / 100), dpi=100)

left_px, right_px = 64, 822
top_px = 25
panel_h = 280
letter_base = [17, 36, 37, 37]

for i, series in enumerate(panels):
    top = top_px + i * panel_h
    ax = fig.add_axes([left_px / W, 1 - (top + panel_h) / H,
                       (right_px - left_px) / W, panel_h / H])
    for even_vals, odd_vals, col in series:
        df = pd.DataFrame({"t": even_times + odd_times,
                           "rmsd": list(even_vals) + list(odd_vals)})
        df = df.sort_values("t")
        df["rmsd"] = df["rmsd"] / 10.0
        sns.lineplot(data=df, x="t", y="rmsd", ax=ax, color=col,
                     linewidth=1.4, alpha=0.9, estimator=None, sort=False)
    ax.set_xlim(-4.9, 405.4)
    ax.set_ylim(0, 8)
    ax.set_xticks(x_ticks)
    ax.set_yticks(y_ticks)
    ax.xaxis.set_minor_locator(MultipleLocator(25))
    ax.yaxis.set_minor_locator(MultipleLocator(0.5))
    ax.tick_params(axis="both", which="major", direction="in", length=5,
                   width=1.0, color="#333333", labelsize=11, labelcolor="#222222")
    ax.tick_params(axis="both", which="minor", direction="in", length=3,
                   width=0.9, color="#333333")
    ax.tick_params(axis="y", pad=7)
    ax.tick_params(axis="x", pad=7)
    sns.despine(ax=ax, top=True, right=True)
    for s in ["left", "bottom"]:
        ax.spines[s].set_linewidth(1.1)
        ax.spines[s].set_color("#333333")
    ax.set_xlabel("")
    ax.set_ylabel("")
    if i < 3:
        ax.tick_params(axis="x", labelbottom=False)
    ax.text(13 / 758, 1 - 28 / panel_h, panel_titles[i], transform=ax.transAxes,
            fontsize=15.5, fontweight="bold", ha="left", va="baseline", color="black")
    ax.text((811 - 64) / 758, 1 - letter_base[i] / panel_h, panel_letters[i],
            transform=ax.transAxes, fontsize=24, fontweight="bold",
            ha="right", va="baseline", color="black")
    ax.text((23 - 64) / 758, 0.596, "RMSD (Å)", transform=ax.transAxes,
            rotation=90, fontsize=13, ha="center", va="center", color="#222222")
    if i == 3:
        ax.set_xlabel("Time (ns)", fontsize=14, color="#222222", labelpad=8)

fig.savefig("out.png", dpi=100)
